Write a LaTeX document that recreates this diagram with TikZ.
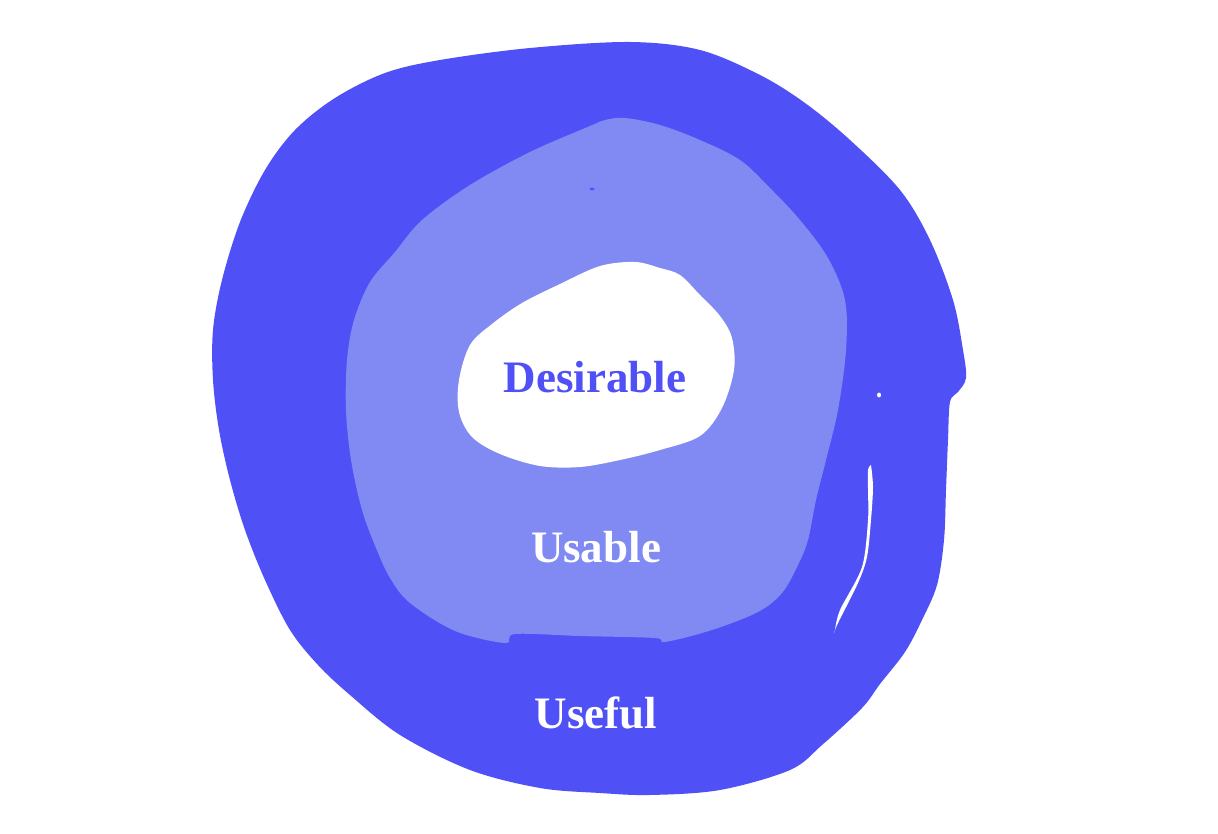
\documentclass[tikz,border=0pt]{standalone}
\usepackage{fontspec}
\setmainfont{Liberation Serif}
\definecolor{outerblue}{RGB}{79,80,245}
\definecolor{midblue}{RGB}{129,137,242}
\tikzset{
  lbl/.style={font=\bfseries\fontsize{45}{50}\selectfont, inner sep=0pt, anchor=center},
  blob/.style={smooth cycle, tension=0.55}
}
\begin{document}
\begin{tikzpicture}[x=1pt,y=-1pt]
\useasboundingbox (0,0) rectangle (1218,834);
% outer blob
\fill[outerblue] plot[blob] coordinates {
(630,42) (700,50) (760,75) (805,103) (850,140) (900,190) (930,240) (953,300)
(963,350) (966,378) (958,392) (950,402) (948,440) (946,490) (944,540) (937,585)
(922,620) (905,652) (880,684) (862,708) (822,745) (790,770) (720,790) (650,795)
(600,793) (540,788) (470,770) (400,735) (350,695) (318,665) (290,630) (265,580)
(245,530) (230,480) (219,430) (213,380) (213,330) (222,280) (240,222) (265,170)
(295,130) (335,98) (385,73) (440,60) (530,48)};
% white streak and dot
\fill[white] plot[smooth, tension=0.5] coordinates {(871,465) (873,487) (871,520) (867,557) (858,583) (838,623) (834,633)}
  -- plot[smooth, tension=0.5] coordinates {(835,630) (840,610) (862,567) (868,520) (868,490) (868,470) (871,465)} -- cycle;
\fill[white] (879,395) ellipse (2 and 2.5);
% middle blob
\fill[midblue] plot[blob] coordinates {
(625,118) (660,125) (700,140) (740,160) (770,188) (800,220) (828,258) (845,300)
(846,350) (838,410) (826,460) (816,500) (808,540) (798,565) (782,593) (758,612)
(712,630) (665,642) (655,638) (580,636) (515,634) (505,643) (455,631) (410,603)
(390,578) (376,548) (362,510) (351,460) (346,410) (347,360) (354,320) (370,282)
(395,252) (422,220) (470,185) (530,152) (590,126) (605,120)};
\fill[outerblue] (592,189) ellipse (2.5 and 1.2);
% inner white blob
\fill[white] plot[blob] coordinates {
(635,262) (660,268) (680,275) (700,295) (720,316) (732,338) (734,370) (722,408)
(700,436) (660,450) (620,460) (580,467) (540,466) (500,454) (472,437) (459,412)
(459,380) (470,345) (492,324) (522,303) (560,284) (600,266)};
% labels
\node[lbl, text=outerblue] (des) at (595,377) {Desirable};
\node[lbl, text=white] (usa) at (596,547) {Usable};
\node[lbl, text=white] (use) at (596,713) {Useful};
\end{tikzpicture}
\end{document}
